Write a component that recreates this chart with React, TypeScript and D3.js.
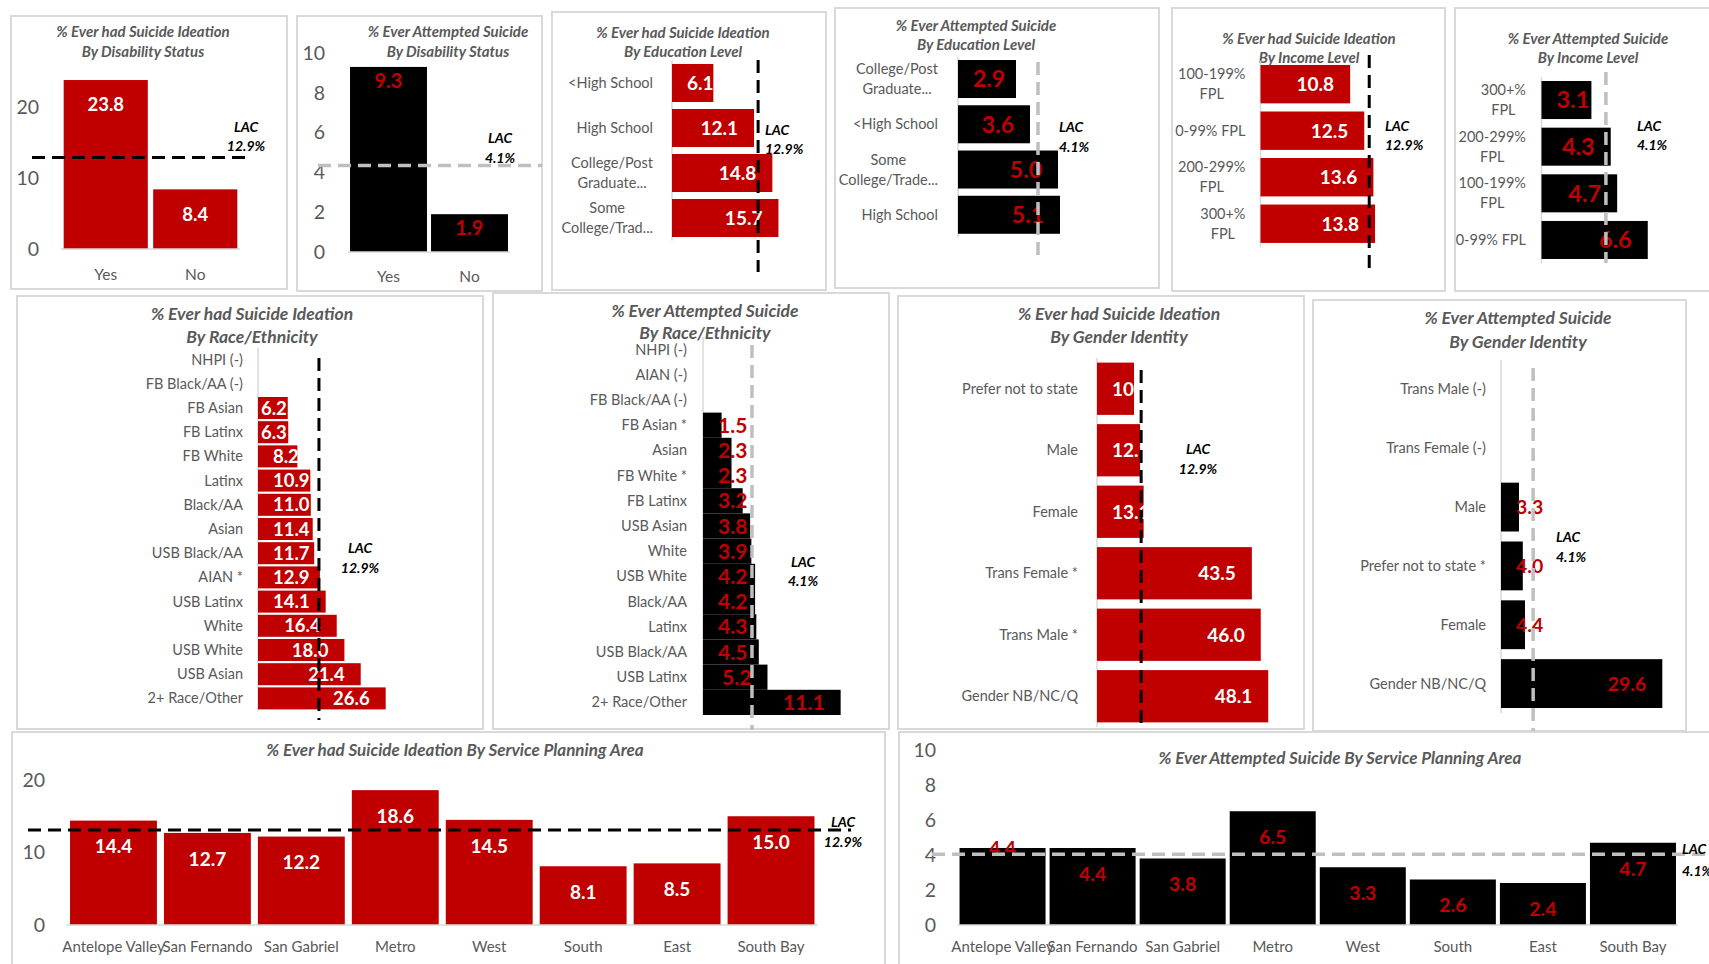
import React from "react";
import * as d3 from "d3";

// ---------------- DATA ----------------
const LAC_IDEATION = 12.9;
const LAC_ATTEMPT = 4.1;

const disabilityCats = ["Yes", "No"];
const ideationDisability = [23.8, 8.4];
const attemptDisability = [9.3, 1.9];

const ideationEduCats = ["<High School", "High School", "College/Post\nGraduate...", "Some\nCollege/Trad..."];
const ideationEdu = [6.1, 12.1, 14.8, 15.7];
const attemptEduCats = ["College/Post\nGraduate...", "<High School", "Some\nCollege/Trade...", "High School"];
const attemptEdu = [2.9, 3.6, 5.0, 5.1];

const ideationIncomeCats = ["100-199%\nFPL", "0-99% FPL", "200-299%\nFPL", "300+%\nFPL"];
const ideationIncome = [10.8, 12.5, 13.6, 13.8];
const attemptIncomeCats = ["300+%\nFPL", "200-299%\nFPL", "100-199%\nFPL", "0-99% FPL"];
const attemptIncome = [3.1, 4.3, 4.7, 6.6];

const ideationRaceCats = ["NHPI (-)", "FB Black/AA (-)", "FB Asian", "FB Latinx", "FB White", "Latinx", "Black/AA", "Asian", "USB Black/AA", "AIAN *", "USB Latinx", "White", "USB White", "USB Asian", "2+ Race/Other"];
const ideationRace = [null, null, 6.2, 6.3, 8.2, 10.9, 11.0, 11.4, 11.7, 12.9, 14.1, 16.4, 18.0, 21.4, 26.6];
const attemptRaceCats = ["NHPI (-)", "AIAN (-)", "FB Black/AA (-)", "FB Asian *", "Asian", "FB White *", "FB Latinx", "USB Asian", "White", "USB White", "Black/AA", "Latinx", "USB Black/AA", "USB Latinx", "2+ Race/Other"];
const attemptRace = [null, null, null, 1.5, 2.3, 2.3, 3.2, 3.8, 3.9, 4.2, 4.2, 4.3, 4.5, 5.2, 11.1];

const ideationGenderCats = ["Prefer not to state", "Male", "Female", "Trans Female *", "Trans Male *", "Gender NB/NC/Q"];
const ideationGender = [10.4, 12.1, 13.1, 43.5, 46.0, 48.1];
const attemptGenderCats = ["Trans Male (-)", "Trans Female (-)", "Male", "Prefer not to state *", "Female", "Gender NB/NC/Q"];
const attemptGender = [null, null, 3.3, 4.0, 4.4, 29.6];

const spaCats = ["Antelope Valley", "San Fernando", "San Gabriel", "Metro", "West", "South", "East", "South Bay"];
const ideationSpa = [14.4, 12.7, 12.2, 18.6, 14.5, 8.1, 8.5, 15.0];
const attemptSpa = [4.4, 4.4, 3.8, 6.5, 3.3, 2.6, 2.4, 4.7];

// where the LAC reference line is drawn in each panel
const lacLineAt = [12.9, 4.35, 12.7, 4.0, 13.1, 4.0, 12.7, 3.95, 12.4, 5.9, 13.1, 4.05];

// ---------------- STYLE ----------------
const FONT = "Lato, 'Open Sans', sans-serif";
const RED = "#c00000";
const GRAY_TEXT = "#595959";
const LAC_GRAY = "#bfbfbf";
const BORDER = "#d9d9d9";

let _ctx: any = null;
function textWidth(t: string, size: number, weight = "normal") {
  if (!_ctx) _ctx = document.createElement("canvas").getContext("2d");
  _ctx.font = `${weight} ${size}px Lato`;
  return _ctx.measureText(t).width;
}

function Title({ lines, x, ys, size }: any) {
  return (
    <g>
      {lines.map((l: string, i: number) => (
        <text key={i} x={x} y={ys[i]} dy="0.35em" textAnchor="middle" fontSize={size} fontWeight="bold" fontStyle="italic" fill={GRAY_TEXT}>{l}</text>
      ))}
    </g>
  );
}

function LacText({ lt, value }: any) {
  return (
    <g>
      <text x={lt.x} y={lt.y[0]} dy="0.35em" textAnchor={lt.anchor} fontSize={14} fontWeight="bold" fontStyle="italic" fill="#000">LAC</text>
      <text x={lt.x} y={lt.y[1]} dy="0.35em" textAnchor={lt.anchor} fontSize={14} fontWeight="bold" fontStyle="italic" fill="#000">{value.toFixed(1)}%</text>
    </g>
  );
}

function Box({ b }: any) {
  return <rect x={b[0]} y={b[1]} width={b[2] - b[0]} height={b[3] - b[1]} fill="#fff" stroke={BORDER} strokeWidth={2} />;
}

function HBar({ c }: any) {
  const x = d3.scaleLinear().domain([0, c.dmax]).range([c.ax, c.rend]);
  const y = d3.scaleBand<number>().domain(d3.range(c.cats.length)).range(c.by).paddingInner(c.pad).paddingOuter(c.pad / 2);
  const black = c.lineCol === "#000";
  return (
    <g>
      <Box b={c.box} />
      <Title lines={c.title} x={c.tx} ys={c.ty} size={c.tsize} />
      <line x1={c.ax} x2={c.ax} y1={c.by[0]} y2={c.by[1]} stroke={BORDER} strokeWidth={1.5} />
      {c.vals.map((v: number | null, i: number) =>
        v == null ? null : (
          <rect key={i} x={x(0)} y={y(i)} width={x(v) - x(0)} height={y.bandwidth()} fill={c.bar} />
        )
      )}
      {c.vals.map((v: number | null, i: number) => {
        if (v == null) return null;
        const s = v.toFixed(1);
        const w = textWidth(s, c.ls, c.lw);
        const bw = x(v) - x(0);
        let end = Math.max(x(v) - 16, c.ax + c.lmin + w);
        if (c.smallInset != null && bw < w + 8) end = c.ax + c.smallInset + w;
        return (
          <text key={i} x={end} y={y(i)! + y.bandwidth() / 2} dy="0.36em" textAnchor="end" fontSize={c.ls} fontWeight={c.lw} fill={c.lc}>{s}</text>
        );
      })}
      <line x1={x(c.lacAt)} x2={x(c.lacAt)} y1={c.ly[0]} y2={c.ly[1]} stroke={black ? "#000" : LAC_GRAY} strokeWidth={black ? 3 : 3.5} strokeDasharray="13,7" />
      <LacText lt={c.lt} value={c.lacVal} />
      {c.cats.map((cat: string, i: number) => {
        const lines = cat.split("\n");
        const cy = y(i)! + y.bandwidth() / 2;
        if (lines.length === 1)
          return <text key={i} x={c.cr} y={cy} dy="0.35em" textAnchor="end" fontSize={c.cs} fill={GRAY_TEXT}>{cat}</text>;
        const mw = Math.max(...lines.map((l) => textWidth(l, c.cs)));
        const cx = c.cr - mw / 2;
        return (
          <g key={i}>
            {lines.map((l, j) => (
              <text key={j} x={cx} y={cy + (j - (lines.length - 1) / 2) * c.lh} dy="0.35em" textAnchor="middle" fontSize={c.cs} fill={GRAY_TEXT}>{l}</text>
            ))}
          </g>
        );
      })}
    </g>
  );
}

function VBar({ c }: any) {
  const x = d3.scaleBand<number>().domain(d3.range(c.cats.length)).range(c.bx).paddingInner(c.pad).paddingOuter(c.pad / 2);
  const y = d3.scaleLinear().domain([0, c.dmax]).range([c.base, c.top]);
  const black = c.lineCol === "#000";
  return (
    <g>
      <Box b={c.box} />
      <Title lines={c.title} x={c.tx} ys={c.ty} size={c.tsize} />
      {c.ticks.map((t: number) => (
        <text key={t} x={c.tickR} y={y(t)} dy="0.35em" textAnchor="end" fontSize={c.tickSize} fill={GRAY_TEXT}>{t}</text>
      ))}
      {c.vals.map((v: number, i: number) => (
        <rect key={i} x={x(i)} y={y(v)} width={x.bandwidth()} height={y(0) - y(v)} fill={c.bar} />
      ))}
      <line x1={c.bx[0]} x2={c.bx[1]} y1={y(0)} y2={y(0)} stroke={BORDER} strokeWidth={1.5} />
      {c.vals.map((v: number, i: number) => (
        <text key={i} x={x(i)! + x.bandwidth() / 2} y={y(v) + (c.loffs ? c.loffs[i] : c.loff)} dy="0.35em" textAnchor="middle" fontSize={c.ls} fontWeight={c.lw} fill={c.lc}>{v.toFixed(1)}</text>
      ))}
      <line x1={c.lx[0]} x2={c.lx[1]} y1={y(c.lacAt)} y2={y(c.lacAt)} stroke={black ? "#000" : LAC_GRAY} strokeWidth={black ? 3 : 3.5} strokeDasharray="13,7" />
      <LacText lt={c.lt} value={c.lacVal} />
      {c.cats.map((cat: string, i: number) => (
        <text key={i} x={x(i)! + x.bandwidth() / 2} y={c.catY} dy="0.35em" textAnchor="middle" fontSize={c.cs} fill={GRAY_TEXT}>{cat}</text>
      ))}
    </g>
  );
}

const T1 = ["% Ever had Suicide Ideation"];
const T2 = ["% Ever Attempted Suicide"];

export default function App() {
  const p1 = { box: [11, 16, 287, 289], title: [...T1, "By Disability Status"], tx: 143, ty: [32, 52], tsize: 15,
    cats: disabilityCats, vals: ideationDisability, bar: RED, lc: "#fff", lw: "bold", ls: 18.5,
    bx: [61, 240], pad: 0.06, base: 249, top: 107, dmax: 20, ticks: [0, 10, 20], tickR: 39, tickSize: 19.5,
    catY: 275, cs: 15.5, loff: 25, lacVal: LAC_IDEATION, lacAt: lacLineAt[0], lineCol: "#000", lx: [32, 248],
    lt: { x: 246, y: [127, 146], anchor: "middle" } };
  const p2 = { box: [297, 16, 542, 291], title: [...T2, "By Disability Status"], tx: 448, ty: [32, 52], tsize: 15,
    cats: disabilityCats, vals: attemptDisability, bar: "#000", lc: RED, lw: "bold", ls: 20,
    bx: [348, 510], pad: 0.05, base: 252, top: 53, dmax: 10, ticks: [0, 2, 4, 6, 8, 10], tickR: 325, tickSize: 19.5,
    catY: 277, cs: 15.5, loff: 14, lacVal: LAC_ATTEMPT, lacAt: lacLineAt[1], lineCol: LAC_GRAY, lx: [318, 542],
    lt: { x: 500, y: [138, 158], anchor: "middle" } };
  const p3 = { box: [552, 12, 826, 290], title: [...T1, "By Education Level"], tx: 683, ty: [33, 52], tsize: 15,
    cats: ideationEduCats, vals: ideationEdu, bar: RED, lc: "#fff", lw: "bold", ls: 19,
    ax: 672, dmax: 20, rend: 807.6, by: [60.5, 240.5], pad: 0.155, cr: 653, cs: 14.5, lh: 20, lmin: 15,
    lacVal: LAC_IDEATION, lacAt: lacLineAt[2], lineCol: "#000", ly: [60, 272], lt: { x: 765, y: [130, 149], anchor: "start" } };
  const p4 = { box: [835, 8, 1159, 288], title: [...T2, "By Education Level"], tx: 976, ty: [26, 45], tsize: 15,
    cats: attemptEduCats, vals: attemptEdu, bar: "#000", lc: RED, lw: "bold", ls: 23,
    ax: 958, dmax: 6, rend: 1078, by: [56.4, 237.4], pad: 0.16, cr: 938, cs: 14.5, lh: 20, lmin: 15,
    lacVal: LAC_ATTEMPT, lacAt: lacLineAt[3], lineCol: LAC_GRAY, ly: [62, 260], lt: { x: 1059, y: [127, 147], anchor: "start" } };
  const p5 = { box: [1172, 8, 1445, 291], title: [...T1, "By Income Level"], tx: 1309, ty: [39, 58], tsize: 15,
    cats: ideationIncomeCats, vals: ideationIncome, bar: RED, lc: "#fff", lw: "bold", ls: 19,
    ax: 1260.5, dmax: 20, rend: 1426.5, by: [60.9, 247], pad: 0.175, cr: 1245.5, cs: 14.5, lh: 20, lmin: 15,
    lacVal: LAC_IDEATION, lacAt: lacLineAt[4], lineCol: "#000", ly: [55, 275], lt: { x: 1385, y: [126, 145], anchor: "start" } };
  const p6 = { box: [1455, 8, 1715, 291], title: [...T2, "By Income Level"], tx: 1588, ty: [39, 58], tsize: 15,
    cats: attemptIncomeCats, vals: attemptIncome, bar: "#000", lc: RED, lw: "bold", ls: 23.5,
    ax: 1541.5, dmax: 10, rend: 1702.5, by: [76.7, 263.3], pad: 0.185, cr: 1526, cs: 14.5, lh: 20, lmin: 15,
    lacVal: LAC_ATTEMPT, lacAt: lacLineAt[5], lineCol: LAC_GRAY, ly: [72, 263], lt: { x: 1637, y: [126, 145], anchor: "start" } };
  const p7 = { box: [17, 296, 483, 729], title: [...T1, "By Race/Ethnicity"], tx: 252, ty: [314, 337], tsize: 17.5,
    cats: ideationRaceCats, vals: ideationRace, bar: RED, lc: "#fff", lw: "bold", ls: 18.5,
    ax: 258, dmax: 30, rend: 402, by: [347.5, 710.5], pad: 0.09, cr: 243, cs: 14.5, lh: 20, lmin: 15, smallInset: 3,
    lacVal: LAC_IDEATION, lacAt: lacLineAt[6], lineCol: "#000", ly: [358, 720], lt: { x: 360, y: [548, 568], anchor: "middle" } };
  const p8 = { box: [493, 293, 889, 729], title: [...T2, "By Race/Ethnicity"], tx: 705, ty: [311, 333], tsize: 17.5,
    cats: attemptRaceCats, vals: attemptRace, bar: "#000", lc: RED, lw: "bold", ls: 21,
    ax: 703, dmax: 12, rend: 851.8, by: [337, 715], pad: 0, cr: 687, cs: 14.5, lh: 20, lmin: 15,
    lacVal: LAC_ATTEMPT, lacAt: lacLineAt[7], lineCol: LAC_GRAY, ly: [345, 730], lt: { x: 803, y: [562, 581], anchor: "middle" } };
  const p9 = { box: [898, 296, 1304, 729], title: [...T1, "By Gender Identity"], tx: 1119, ty: [314, 337], tsize: 17.5,
    cats: ideationGenderCats, vals: ideationGender, bar: RED, lc: "#fff", lw: "bold", ls: 19,
    ax: 1097, dmax: 50, rend: 1275, by: [358, 727], pad: 0.15, cr: 1078, cs: 14.5, lh: 20, lmin: 15,
    lacVal: LAC_IDEATION, lacAt: lacLineAt[8], lineCol: "#000", ly: [370, 729], lt: { x: 1198, y: [449, 469], anchor: "middle" } };
  const p10 = { box: [1313, 300, 1686, 731], title: [...T2, "By Gender Identity"], tx: 1518, ty: [318, 342], tsize: 17.5,
    cats: attemptGenderCats, vals: attemptGender, bar: "#000", lc: RED, lw: "bold", ls: 19.5,
    ax: 1501, dmax: 30, rend: 1664.5, by: [360, 713], pad: 0.17, cr: 1486, cs: 14.5, lh: 20, lmin: 15,
    lacVal: LAC_ATTEMPT, lacAt: lacLineAt[9], lineCol: LAC_GRAY, ly: [368, 731], lt: { x: 1556, y: [537, 557], anchor: "start" } };
  const p11 = { box: [12, 732, 885, 975], title: ["% Ever had Suicide Ideation By Service Planning Area"], tx: 455, ty: [750], tsize: 17,
    cats: spaCats, vals: ideationSpa, bar: RED, lc: "#fff", lw: "bold", ls: 19,
    bx: [66.5, 818], pad: 0.075, base: 925, top: 780, dmax: 20, ticks: [0, 10, 20], tickR: 45, tickSize: 19.5,
    catY: 947, cs: 15, loff: 26, lacVal: LAC_IDEATION, lacAt: lacLineAt[10], lineCol: "#000", lx: [28, 851],
    lt: { x: 843, y: [822, 842], anchor: "middle" } };
  const p12 = { box: [899, 732, 1715, 975], title: ["% Ever Attempted Suicide By Service Planning Area"], tx: 1340, ty: [758], tsize: 17,
    cats: spaCats, vals: attemptSpa, bar: "#000", lc: RED, lw: "bold", ls: 19.5,
    bx: [957.5, 1678], pad: 0.045, base: 925, top: 750, dmax: 10, ticks: [0, 2, 4, 6, 8, 10], tickR: 936, tickSize: 19.5,
    catY: 947, cs: 15, loff: 26, loffs: [0, 26, 26, 26, 26, 26, 26, 26], lacVal: LAC_ATTEMPT, lacAt: lacLineAt[11], lineCol: LAC_GRAY, lx: [932, 1709],
    lt: { x: 1682, y: [849, 871], anchor: "start" } };

  return (
    <svg width={1709} height={964} style={{ position: "absolute", left: 0, top: 0 }} fontFamily={FONT}>
      <rect width={1709} height={964} fill="#fff" />
      <VBar c={p1} />
      <VBar c={p2} />
      <HBar c={p3} />
      <HBar c={p4} />
      <HBar c={p5} />
      <HBar c={p6} />
      <HBar c={p7} />
      <HBar c={p8} />
      <HBar c={p9} />
      <HBar c={p10} />
      <VBar c={p11} />
      <VBar c={p12} />
    </svg>
  );
}
